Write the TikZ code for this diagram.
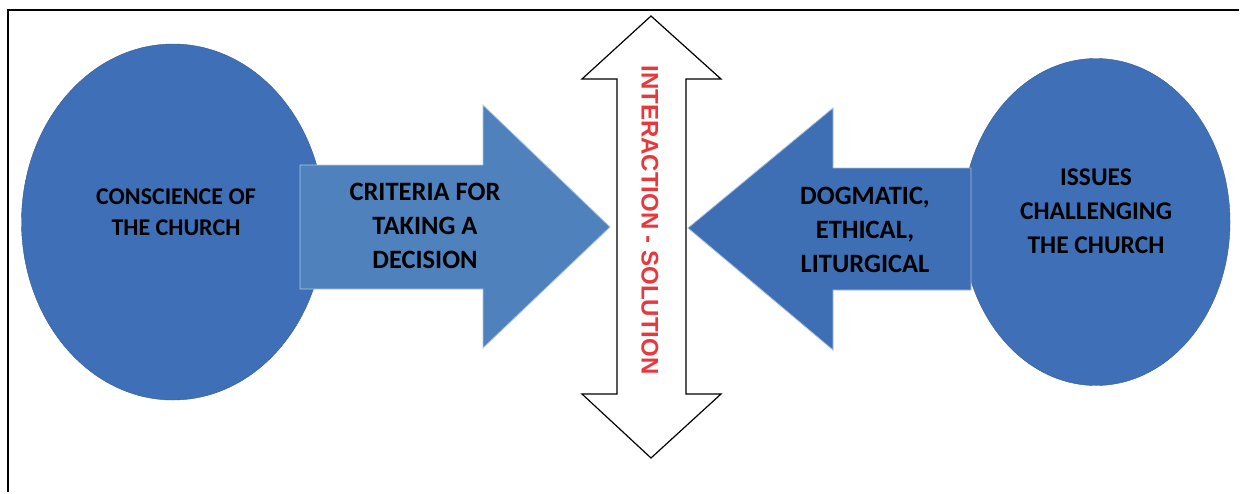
\documentclass[tikz,border=0pt]{standalone}
\usepackage{fontspec}
\setmainfont{Carlito}
\newfontfamily\redfont{Liberation Sans}
\usetikzlibrary{shapes.geometric}
\definecolor{ovalblue}{RGB}{63,112,183}
\definecolor{arrowlight}{RGB}{79,129,189}
\definecolor{arrowdark}{RGB}{62,111,181}
\definecolor{redtext}{RGB}{232,56,61}
\tikzset{
  oval/.style={draw=ovalblue!80!black, fill=ovalblue, ellipse, inner sep=0pt},
  bigarrow/.style={fill=#1, draw=white!55!#1, line width=0.8pt},
  blocktext/.style={align=center, font=\bfseries\fontsize{#1}{34}\selectfont},
}
\begin{document}
\begin{tikzpicture}[x=1pt,y=-1pt]
\useasboundingbox (0,0) rectangle (1244,493);
\draw[line width=1.5pt] (8,492) -- (8,10) -- (1239,10);
% left and right ovals
\node[oval, minimum width=303, minimum height=356] (conscience) at (173,222) {};
\node[oval, minimum width=268, minimum height=327] (issues) at (1096,222) {};
% blue arrows
\path[bigarrow=arrowlight] (300,165) -- (483,165) -- (483,105) -- (610,227) -- (483,348) -- (483,289) -- (300,289) -- cycle;
\path[bigarrow=arrowdark] (971,168) -- (833,168) -- (833,108) -- (688,228) -- (833,350) -- (833,290) -- (971,290) -- cycle;
% up-down arrow
\path[draw, fill=white, line width=1.2pt, line join=miter] (651,16) -- (721,79) -- (686,79) -- (686,394) -- (721,394) -- (651,458) -- (582,394) -- (617,394) -- (617,79) -- (582,79) -- cycle;
% texts
\node[blocktext=24, font=\bfseries\fontsize{24}{31}\selectfont] (consciencetext) at (176,212) {CONSCIENCE OF\\THE CHURCH};
\node[blocktext=25.5, font=\bfseries\fontsize{25.5}{34}\selectfont] (issuestext) at (1096,211) {ISSUES\\CHALLENGING\\THE CHURCH};
\node[blocktext=26.5] (criteria) at (425,226) {CRITERIA FOR\\TAKING A\\DECISION};
\node[blocktext=26.5] (dogmatic) at (865,230) {DOGMATIC,\\ETHICAL,\\LITURGICAL};
\node[rotate=-90, text=redtext, font=\redfont\bfseries\fontsize{24}{28}\selectfont] (interaction) at (650,220) {INTERACTION - SOLUTION};
\end{tikzpicture}
\end{document}
